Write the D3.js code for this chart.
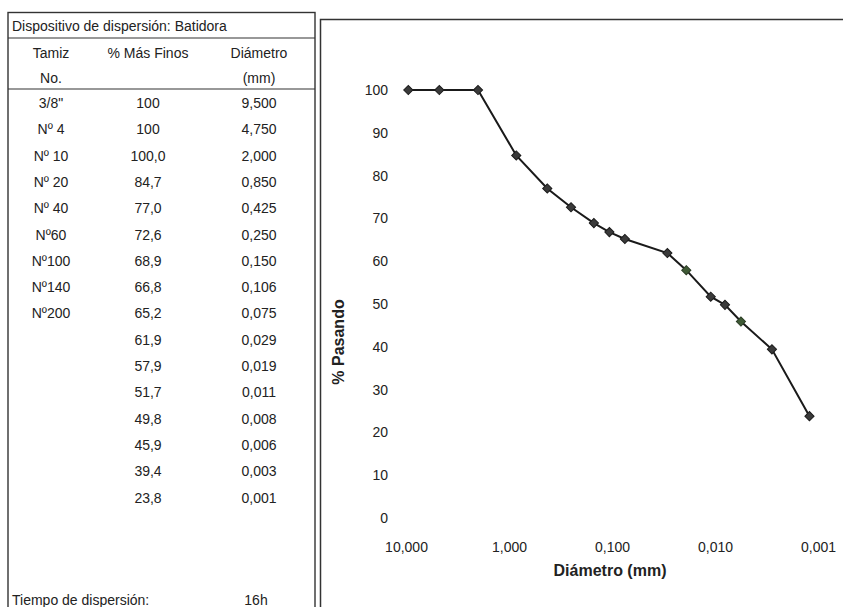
<!DOCTYPE html>
<html>
<head>
<meta charset="utf-8">
<script src="https://cdn.jsdelivr.net/npm/d3@7"></script>
<style>
  html, body { margin: 0; padding: 0; background: #fff; }
  svg { display: block; font-family: "Liberation Sans", Arial, sans-serif; }
</style>
</head>
<body>
<svg id="chart" width="843" height="607"></svg>
<script>
// ---- Data ----
const tituloTabla = "Dispositivo de dispersión: Batidora";
const encabezado1 = ["Tamiz", "% Más Finos", "Diámetro"];
const encabezado2 = ["No.", "", "(mm)"];
const tamiz = ["3/8\"", "Nº 4", "Nº 10", "Nº 20", "Nº 40", "Nº60", "Nº100", "Nº140", "Nº200", "", "", "", "", "", "", ""];
const masFinosTexto = ["100", "100", "100,0", "84,7", "77,0", "72,6", "68,9", "66,8", "65,2", "61,9", "57,9", "51,7", "49,8", "45,9", "39,4", "23,8"];
const pasando = [100, 100, 100.0, 84.7, 77.0, 72.6, 68.9, 66.8, 65.2, 61.9, 57.9, 51.7, 49.8, 45.9, 39.4, 23.8];
const diametro = [9.5, 4.75, 2.0, 0.85, 0.425, 0.25, 0.15, 0.106, 0.075, 0.029, 0.019, 0.011, 0.008, 0.0056, 0.0028, 0.00121];
const marcadorVerde = [false, false, false, false, false, false, false, false, false, false, true, false, false, true, false, false];
const tiempoTexto = ["Tiempo de dispersión:", "16h"];
const xTicks = [10, 1, 0.1, 0.01, 0.001];
const yTicks = [0, 10, 20, 30, 40, 50, 60, 70, 80, 90, 100];
const xTitulo = "Diámetro (mm)";
const yTitulo = "% Pasando";

// ---- Spanish number format ----
const es = d3.formatLocale({decimal: ",", thousands: ".", grouping: [3], currency: ["", ""]});
const f3 = es.format(".3f");

const svg = d3.select("#chart");
const ink = "#222";

// ---- Table ----
const tbl = svg.append("g").attr("font-size", 14).attr("fill", ink);
const tL = 8, tR = 315, tT = 12.5, tB = 650;
tbl.append("rect").attr("x", tL).attr("y", tT).attr("width", tR - tL).attr("height", tB - tT)
  .attr("fill", "none").attr("stroke", "#333").attr("stroke-width", 1.4);
tbl.append("line").attr("x1", tL).attr("x2", tR).attr("y1", 38).attr("y2", 38).attr("stroke", "#333").attr("stroke-width", 1.2);
tbl.append("line").attr("x1", tL).attr("x2", tR).attr("y1", 89).attr("y2", 89).attr("stroke", "#333").attr("stroke-width", 1.2);
tbl.append("text").attr("x", 12).attr("y", 31).text(tituloTabla);

const colX = [51, 148, 259];
encabezado1.forEach((t, i) => tbl.append("text").attr("x", colX[i]).attr("y", 58).attr("text-anchor", "middle").text(t));
encabezado2.forEach((t, i) => tbl.append("text").attr("x", colX[i]).attr("y", 83).attr("text-anchor", "middle").text(t));

const rowY = i => 103 + 26.3 * i;
const rows = tbl.selectAll("g.row").data(d3.range(diametro.length)).join("g").attr("class", "row");
rows.append("text").attr("x", colX[0]).attr("y", i => rowY(i) + 5).attr("text-anchor", "middle").text(i => tamiz[i]);
rows.append("text").attr("x", colX[1]).attr("y", i => rowY(i) + 5).attr("text-anchor", "middle").text(i => masFinosTexto[i]);
rows.append("text").attr("x", colX[2]).attr("y", i => rowY(i) + 5).attr("text-anchor", "middle").text(i => f3(diametro[i]));

tbl.append("text").attr("x", 12).attr("y", 605).text(tiempoTexto[0]);
tbl.append("text").attr("x", 256).attr("y", 605).attr("text-anchor", "middle").text(tiempoTexto[1]);

// ---- Chart frame ----
svg.append("rect").attr("x", 320.5).attr("y", 19.5).attr("width", 600).attr("height", 700)
  .attr("fill", "none").attr("stroke", "#333").attr("stroke-width", 1.5);

// ---- Scales ----
const x = d3.scaleLog().domain([10, 0.001]).range([406, 818]);
const y = d3.scaleLinear().domain([0, 100]).range([518, 90]);

// ---- Axes ----
const gx = svg.append("g").attr("transform", "translate(0,539)")
  .call(d3.axisBottom(x).tickValues(xTicks).tickFormat(f3).tickSize(0).tickPadding(3));
gx.select(".domain").remove();
gx.selectAll("text").attr("font-size", 14).attr("fill", ink).attr("font-family", "Liberation Sans, Arial, sans-serif");

const gy = svg.append("g").attr("transform", "translate(391,0)")
  .call(d3.axisLeft(y).tickValues(yTicks).tickFormat(d3.format("d")).tickSize(0).tickPadding(3));
gy.select(".domain").remove();
gy.selectAll("text").attr("font-size", 14).attr("fill", ink).attr("font-family", "Liberation Sans, Arial, sans-serif");

svg.append("text").attr("x", 610).attr("y", 576).attr("text-anchor", "middle")
  .attr("font-size", 16).attr("font-weight", "bold").attr("fill", ink).text(xTitulo);
svg.append("text").attr("transform", "translate(344,342) rotate(-90)").attr("text-anchor", "middle")
  .attr("font-size", 16).attr("font-weight", "bold").attr("fill", ink).text(yTitulo);

// ---- Curve ----
const pts = d3.range(diametro.length).map(i => ({d: diametro[i], p: pasando[i], g: marcadorVerde[i]}));
svg.append("path").datum(pts)
  .attr("fill", "none").attr("stroke", "#1a1a1a").attr("stroke-width", 2)
  .attr("d", d3.line().x(p => x(p.d)).y(p => y(p.p)));

const marker = d3.symbol().type(d3.symbolSquare).size(42);
svg.selectAll("path.pt").data(pts).join("path").attr("class", "pt")
  .attr("transform", p => `translate(${x(p.d)},${y(p.p)}) rotate(45)`)
  .attr("d", marker)
  .attr("fill", p => p.g ? "#3f5a36" : "#3a3a3a")
  .attr("stroke", p => p.g ? "#2c3d26" : "#1c1c1c")
  .attr("stroke-width", 1);
</script>
</body>
</html>
